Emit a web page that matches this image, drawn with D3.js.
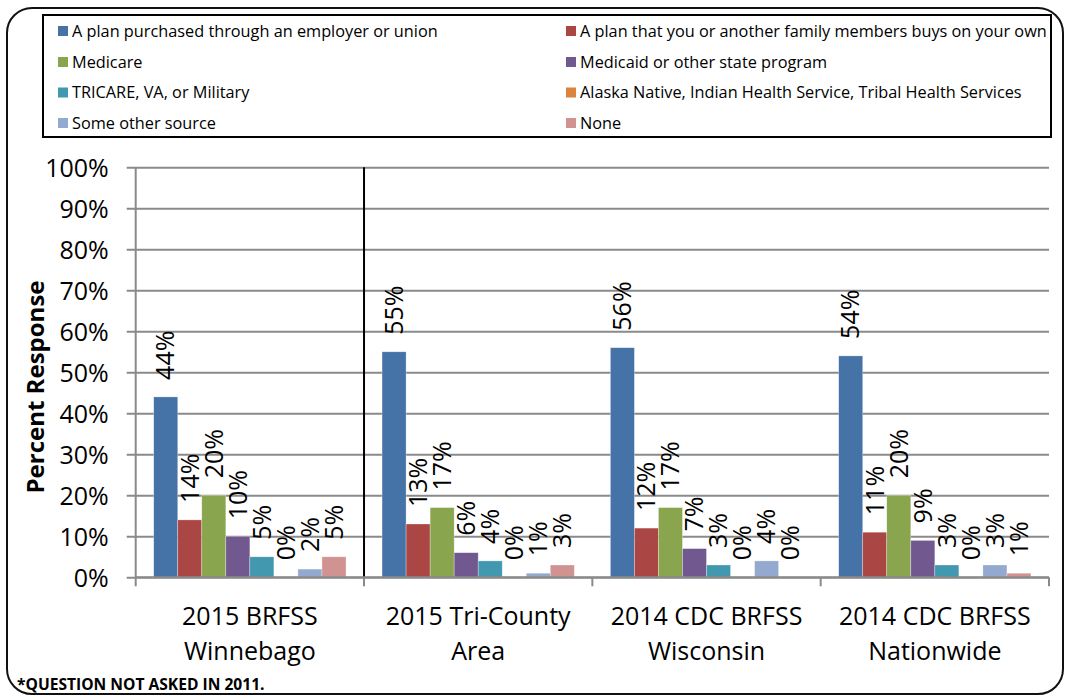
<!DOCTYPE html>
<html>
<head>
<meta charset="utf-8">
<script src="https://cdn.jsdelivr.net/npm/d3@7"></script>
<style>
  html, body { margin: 0; padding: 0; background: #fff; }
  svg { display: block; font-family: "Open Sans", sans-serif; }
</style>
</head>
<body>
<svg id="chart" width="1068" height="698"></svg>
<script>
// Survey sources (two-line category labels)
const categories = [
  ["2015 BRFSS", "Winnebago"],
  ["2015 Tri-County", "Area"],
  ["2014 CDC BRFSS", "Wisconsin"],
  ["2014 CDC BRFSS", "Nationwide"]
];

// Insurance source series
const seriesNames = [
  "A plan purchased through an employer or union",
  "A plan that you or another family members buys on your own",
  "Medicare",
  "Medicaid or other state program",
  "TRICARE, VA, or Military",
  "Alaska Native, Indian Health Service, Tribal Health Services",
  "Some other source",
  "None"
];
const seriesColors = ["#4572A7", "#AA4643", "#89A54E", "#71588F", "#4198AF", "#DB843D", "#93A9CF", "#D19392"];

// Percent values per category, one array per series
const employer  = [44, 55, 56, 54];
const ownPlan   = [14, 13, 12, 11];
const medicare  = [20, 17, 17, 20];
const medicaid  = [10, 6, 7, 9];
const tricare   = [5, 4, 3, 3];
const tribal    = [0, 0, 0, 0];
const otherSrc  = [2, 1, 4, 3];
const noneSrc   = [5, 3, 0, 1];
const seriesValues = [employer, ownPlan, medicare, medicaid, tricare, tribal, otherSrc, noneSrc];

const yTicks = [0, 10, 20, 30, 40, 50, 60, 70, 80, 90, 100];

const svg = d3.select("#chart");

// Outer rounded frame
svg.append("rect")
  .attr("x", 7).attr("y", 8).attr("width", 1056).attr("height", 686)
  .attr("rx", 25).attr("ry", 25)
  .attr("fill", "#fff").attr("stroke", "#111").attr("stroke-width", 2);

// Plot area
const plotL = 135.7, plotR = 1049, plotT = 167.3, plotB = 577.3;
const catIdx = d3.range(categories.length);
const x0 = d3.scaleBand().domain(catIdx).range([plotL, plotR]).padding(0);
const x1 = d3.scaleBand().domain(d3.range(seriesNames.length))
  .range([0, x0.bandwidth()]).paddingInner(0).paddingOuter(0.75);
const y = d3.scaleLinear().domain([0, 100]).range([plotB, plotT]);

// Gridlines + y axis
const yAxis = d3.axisLeft(y).tickValues(yTicks).tickFormat(d => d + "%")
  .tickSizeOuter(0).tickPadding(0);
const gy = svg.append("g").attr("transform", `translate(${plotL},0)`).call(yAxis);
gy.select(".domain").attr("stroke", "#8a8a8a").attr("stroke-width", 2)
  .attr("d", `M0,${plotT}V${plotB}`);
gy.selectAll(".tick line")
  .attr("x1", -9).attr("x2", plotR - plotL)
  .attr("stroke", "#8a8a8a").attr("stroke-width", 2);
gy.selectAll(".tick text")
  .attr("x", -27).attr("dy", "0.35em")
  .attr("fill", "#000").attr("font-size", 25)
  .attr("font-family", "Open Sans, sans-serif");

// Divider after the first category
svg.append("line")
  .attr("x1", x0(1)).attr("x2", x0(1)).attr("y1", plotT).attr("y2", plotB)
  .attr("stroke", "#000").attr("stroke-width", 2);

// Bars
const groups = svg.append("g").selectAll("g")
  .data(catIdx).join("g")
  .attr("transform", c => `translate(${x0(c)},0)`);

groups.selectAll("rect")
  .data(c => seriesValues.map((vals, s) => ({ s, v: vals[c] })))
  .join("rect")
  .attr("x", d => x1(d.s))
  .attr("width", x1.bandwidth())
  .attr("y", d => y(d.v))
  .attr("height", d => plotB - y(d.v))
  .attr("fill", d => seriesColors[d.s])
  .attr("stroke", "#fff").attr("stroke-opacity", 0.5).attr("stroke-width", 0.6);

// Value labels, rotated
groups.selectAll("text.val")
  .data(c => seriesValues.map((vals, s) => ({ s, v: vals[c] })))
  .join("text")
  .attr("class", "val")
  .attr("transform", d => `translate(${x1(d.s) + x1.bandwidth() / 2},${y(d.v) - 17}) rotate(-90)`)
  .attr("dy", "0.35em")
  .attr("text-anchor", "start")
  .attr("font-size", 25)
  .attr("fill", "#000")
  .text(d => d.v + "%");

// X axis baseline and boundary ticks
svg.append("line")
  .attr("x1", plotL).attr("x2", plotR).attr("y1", plotB).attr("y2", plotB)
  .attr("stroke", "#8a8a8a").attr("stroke-width", 2);
const boundaries = catIdx.map(c => x0(c)).concat([plotR]);
svg.append("g").selectAll("line").data(boundaries).join("line")
  .attr("x1", d => d).attr("x2", d => d)
  .attr("y1", plotB).attr("y2", plotB + 9)
  .attr("stroke", "#8a8a8a").attr("stroke-width", 2);

// Category labels
const catLabels = svg.append("g").selectAll("text")
  .data(catIdx).join("text")
  .attr("text-anchor", "middle")
  .attr("font-size", 25)
  .attr("fill", "#000")
  .attr("x", c => x0(c) + x0.bandwidth() / 2)
  .attr("y", 625);
catLabels.selectAll("tspan").data(c => categories[c]).join("tspan")
  .attr("x", function () { return d3.select(this.parentNode).attr("x"); })
  .attr("dy", (d, i) => i === 0 ? 0 : 35)
  .text(d => d);

// Y axis title
svg.append("text")
  .attr("transform", "translate(44,387) rotate(-90)")
  .attr("text-anchor", "middle")
  .attr("font-size", 24)
  .attr("font-weight", "bold")
  .attr("fill", "#000")
  .text("Percent Response");

// Legend
svg.append("rect")
  .attr("x", 43).attr("y", 15).attr("width", 1008).attr("height", 122)
  .attr("fill", "#fff").attr("stroke", "#000").attr("stroke-width", 2);
const legendCols = [58, 566];
const legendRows = [31, 62, 92.5, 123];
const legend = svg.append("g").selectAll("g")
  .data(seriesNames).join("g")
  .attr("transform", (d, i) => `translate(${legendCols[i % 2]},${legendRows[Math.floor(i / 2)]})`);
legend.append("rect")
  .attr("x", 0).attr("y", -5).attr("width", 10).attr("height", 10)
  .attr("fill", (d, i) => seriesColors[i]);
legend.append("text")
  .attr("x", 14).attr("dy", "0.35em")
  .attr("font-size", 16.3)
  .attr("fill", "#000")
  .text(d => d);

// Footnote
svg.append("text")
  .attr("x", 17).attr("y", 690)
  .attr("font-size", 15.6)
  .attr("font-weight", "bold")
  .attr("fill", "#000")
  .text("*QUESTION NOT ASKED IN 2011.");
</script>
</body>
</html>
